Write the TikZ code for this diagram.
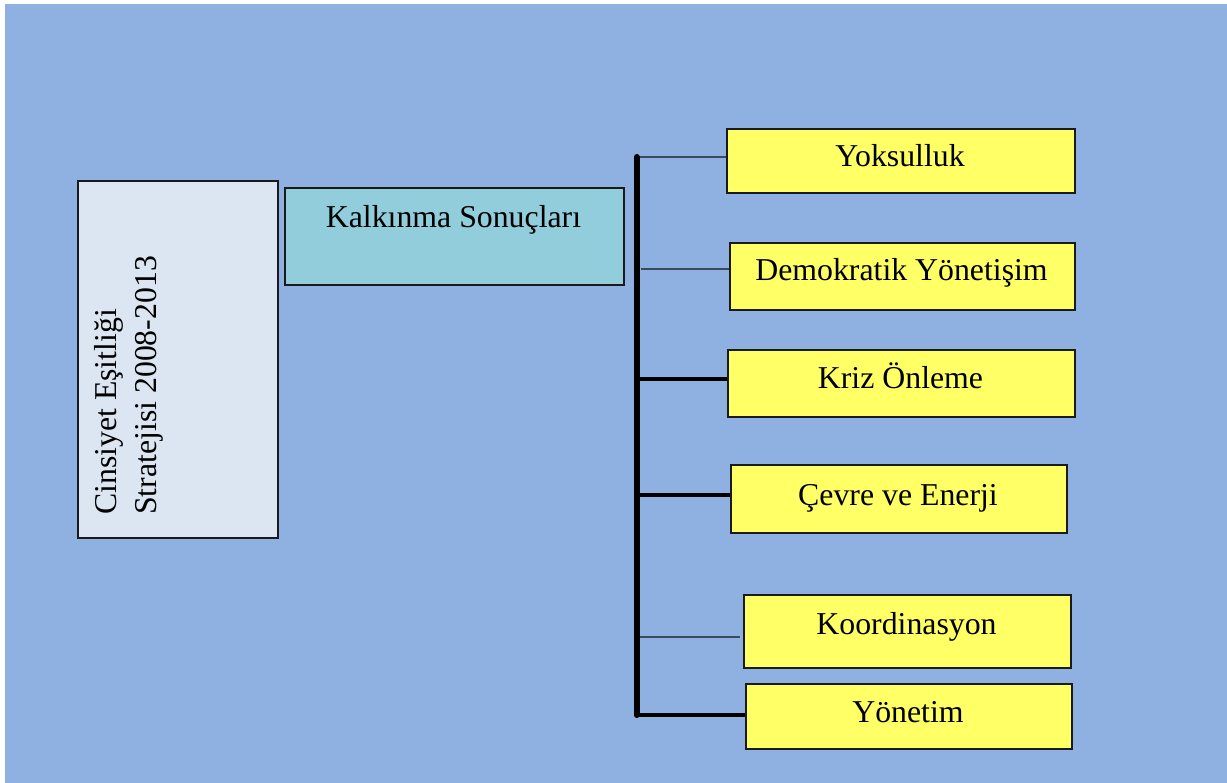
\documentclass[tikz,border=0pt]{standalone}
\usepackage{fontspec}
\setmainfont{Liberation Serif}
\usetikzlibrary{calc}

\definecolor{pagebg}{HTML}{8EB1E1}
\definecolor{leftfill}{HTML}{DCE6F2}
\definecolor{tealfill}{HTML}{92CDDC}
\definecolor{yellowfill}{HTML}{FFFF66}
\definecolor{boxline}{HTML}{1A1A1A}
\definecolor{slateline}{HTML}{3A4A5E}

\tikzset{
  box/.style={draw=boxline, line width=1.6pt, inner sep=0pt, anchor=north west},
  strategybox/.style={box, fill=leftfill},
  resultbox/.style={box, fill=tealfill},
  areabox/.style={box, fill=yellowfill},
  boxtext/.style={anchor=base, inner sep=0pt, font=\fontsize{31.8}{38}\selectfont},
  sidetext/.style={boxtext, anchor=base west, rotate=90},
  spine/.style={line width=6pt, black, line cap=round},
  linkdark/.style={line width=3.2pt, black},
  linkgray/.style={line width=2.6pt, slateline},
}

\begin{document}
\begin{tikzpicture}[x=1pt, y=-1pt]
  % page and backdrop
  \fill[white] (0,0) rectangle (1227,783);
  \fill[pagebg] (5,4) rectangle (1227,783);
  \useasboundingbox (0,0) rectangle (1227,783);

  % strategy box with vertical title
  \node[strategybox, minimum width=200pt, minimum height=357pt] (strategy) at (77,180) {};
  \node[sidetext] (title1) at (116,515) {Cinsiyet Eşitliği};
  \node[sidetext] (title2) at (156,515) {Stratejisi 2008-2013};

  % development results
  \node[resultbox, minimum width=339pt, minimum height=97pt] (results) at (284,187) {};
  \node[boxtext] (resultsT) at (453.5,228) {Kalkınma Sonuçları};

  % outcome areas
  \node[areabox, minimum width=348pt, minimum height=64pt] (pov) at (726,128) {};
  \node[boxtext] (povT) at (900,167) {Yoksulluk};

  \node[areabox, minimum width=345pt, minimum height=67pt] (dem) at (729,242) {};
  \node[boxtext] (demT) at (901.5,281) {Demokratik Yönetişim};

  \node[areabox, minimum width=347pt, minimum height=67pt] (crisis) at (727,349) {};
  \node[boxtext] (crisisT) at (900.5,389) {Kriz Önleme};

  \node[areabox, minimum width=336pt, minimum height=68pt] (env) at (730,464) {};
  \node[boxtext] (envT) at (898,505) {Çevre ve Enerji};

  \node[areabox, minimum width=327pt, minimum height=73pt] (coord) at (743,594) {};
  \node[boxtext] (coordT) at (906.5,634) {Koordinasyon};

  \node[areabox, minimum width=326pt, minimum height=65pt] (mgmt) at (745,683) {};
  \node[boxtext] (mgmtT) at (908,722) {Yönetim};

  % spine and branches
  \coordinate (sTop) at (636.5,157);
  \coordinate (sBot) at (636.5,715);
  \coordinate (b1) at (636.5,157);
  \coordinate (b2) at (641,269);
  \coordinate (b3) at (636.5,379);
  \coordinate (b4) at (636.5,495);
  \coordinate (b5) at (640,637);
  \coordinate (b6) at (636.5,715);
  \coordinate (e5) at (740,637);

  \draw[linkgray] (b1) -- (b1 -| pov.west);
  \draw[linkgray] (b2) -- (b2 -| dem.west);
  \draw[linkdark] (b3) -- (b3 -| crisis.west);
  \draw[linkdark] (b4) -- (b4 -| env.west);
  \draw[linkgray] (b5) -- (e5);
  \draw[linkdark] (b6) -- (b6 -| mgmt.west);
  \draw[spine] (sTop) -- (sBot);
\end{tikzpicture}
\end{document}
